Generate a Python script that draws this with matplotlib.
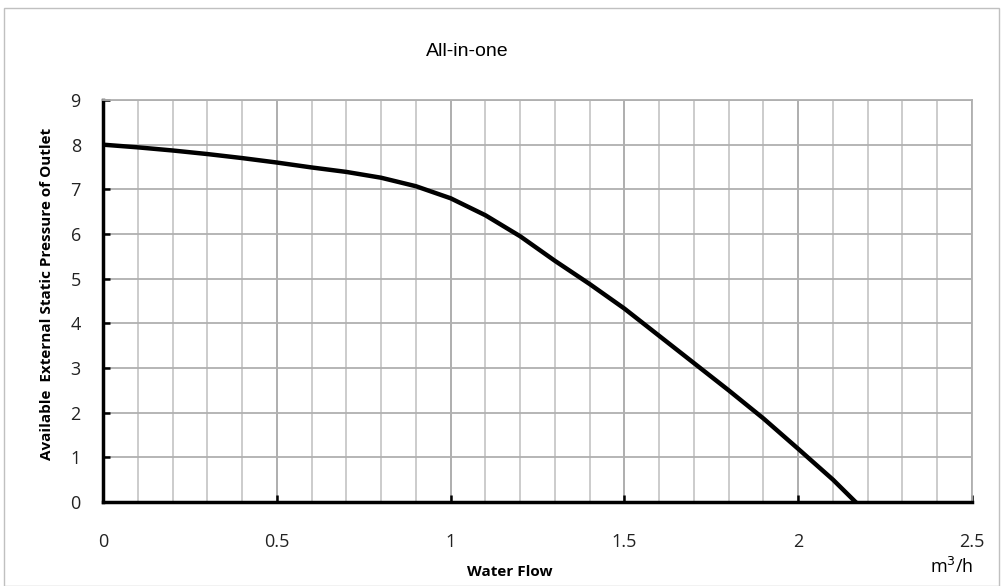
import matplotlib
matplotlib.use('Agg')
import matplotlib.pyplot as plt
from matplotlib.patches import Rectangle
from matplotlib.ticker import MultipleLocator

# pump curve
flow = [0, 0.1, 0.2, 0.3, 0.4, 0.5, 0.6, 0.7, 0.8, 0.9, 1.0, 1.1,
        1.2, 1.3, 1.4, 1.5, 1.6, 1.7, 1.8, 1.9, 2.0, 2.1, 2.165]
pressure = [8.0, 7.94, 7.87, 7.79, 7.70, 7.60, 7.49, 7.39, 7.26, 7.07, 6.80, 6.42,
            5.95, 5.40, 4.88, 4.33, 3.72, 3.11, 2.50, 1.87, 1.19, 0.50, 0.0]
x_ticks = [0, 0.5, 1, 1.5, 2, 2.5]
x_labels = ['0', '0.5', '1', '1.5', '2', '2.5']
y_ticks = list(range(10))

W, H = 1003, 586
fig = plt.figure(figsize=(W / 100, H / 100), dpi=100)
ax = fig.add_axes([103 / W, 1 - 502 / H, (972 - 103) / W, (502 - 100) / H])

tick_font = 'Open Sans'

ax.plot(flow, pressure, color='black', lw=3.2, solid_joinstyle='round', zorder=3)

ax.set_xlim(0, 2.5)
ax.set_ylim(0, 9)
ax.set_xticks(x_ticks)
ax.set_xticklabels(x_labels, fontsize=13, family=tick_font, color='#222222')
ax.set_yticks(y_ticks)
ax.set_yticklabels([str(v) for v in y_ticks], fontsize=13, family=tick_font, color='#222222')
ax.xaxis.set_minor_locator(MultipleLocator(0.1))

ax.grid(which='minor', axis='x', color='#c8c8c8', lw=1.3)
ax.grid(which='major', axis='x', color='#a8a8a8', lw=1.3)
ax.grid(which='major', axis='y', color='#b0b0b0', lw=1.3)
ax.set_axisbelow(True)

ax.tick_params(axis='x', which='major', direction='in', length=5, width=1.8, pad=22)
ax.tick_params(axis='y', which='major', direction='in', length=5, width=1.8, pad=16)
ax.tick_params(which='minor', length=0)

for s in ['left', 'bottom']:
    ax.spines[s].set_linewidth(2.5)
    ax.spines[s].set_color('black')
for s in ['top', 'right']:
    ax.spines[s].set_linewidth(1.3)
    ax.spines[s].set_color('#b0b0b0')

fig.text(467 / W, 1 - 52 / H, 'All-in-one', ha='center', va='center',
         fontsize=14, family='Liberation Sans')
fig.text(47 / W, 1 - 294 / H, 'Available  External Static Pressure of Outlet',
         rotation=90, ha='center', va='center', fontsize=11, fontweight='bold',
         family=tick_font)
fig.text(510 / W, 1 - 572 / H, 'Water Flow', ha='center', va='center',
         fontsize=11, fontweight='bold', family=tick_font)
fig.text(952 / W, 1 - 567 / H, 'm$^3$/h', ha='center', va='center',
         fontsize=13, family=tick_font)

# chart area border
fig.patches.append(Rectangle((4 / W, 0), (W - 8) / W, 1 - 8 / H, transform=fig.transFigure,
                             fill=False, edgecolor='#c0c0c0', lw=1))

fig.savefig('out.png', dpi=100)
